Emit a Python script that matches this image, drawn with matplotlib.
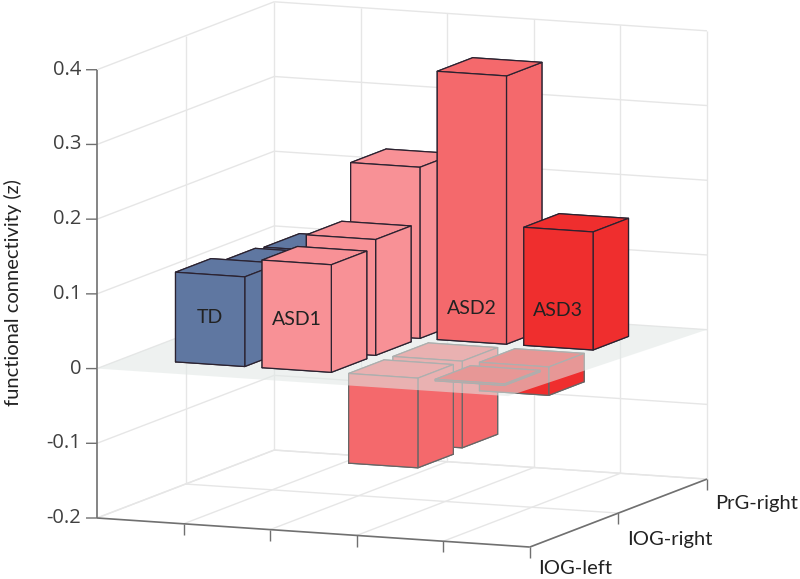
import matplotlib
matplotlib.use("Agg")
import matplotlib.pyplot as plt
from mpl_toolkits.mplot3d import proj3d
from mpl_toolkits.mplot3d.art3d import Poly3DCollection

W, H = 800, 579

groups = ["TD", "ASD1", "ASD2", "ASD3"]
regions = ["IOG-left", "IOG-right", "PrG-right"]
td = [0.120, 0.111, 0.108]
asd1 = [0.144, 0.155, 0.229]
asd2 = [-0.120, -0.116, 0.359]
asd3 = [-0.002, -0.038, 0.158]
colors = ["#5f77a1", "#f89196", "#f4696c", "#ef2e2e"]
z_ticks = [-0.2, -0.1, 0, 0.1, 0.2, 0.3, 0.4]
z_labels = ["-0.2", "-0.1", "0", "0.1", "0.2", "0.3", "0.4"]
x_ticks = [1, 2, 3, 4]
y_ticks = [0, 2, 4]
label_z = [0.062, 0.068, 0.044, 0.050]
# zero plane is not quite rectangular in the original
plane_x = [0, 4.75, 5, 0]
plane_y = [0, 0, 4, 4]

series = [td, asd1, asd2, asd3]
aspect = (469, 459, 454)
FONT = "Lato"
TICK_FONT = "Open Sans"
GRID = "#e6e6e6"
AXIS = "#707070"

fig = plt.figure(figsize=(W / 100, H / 100), dpi=100)
# big square so nothing gets clipped, content is scaled with zoom below
ax = fig.add_axes([-100 / W, (H - 1000) / 2 / H, 1000 / W, 1000 / H],
                  projection="3d", proj_type="ortho", computed_zorder=False)
ax.view_init(elev=9.23, azim=-67.3)
ax.set_xlim(0, 5, view_margin=0)
ax.set_ylim(0, 4, view_margin=0)
ax.set_zlim(-0.2, 0.4, view_margin=0)
ax.set_xticks([])
ax.set_yticks([])
ax.set_zticks([])
ax.set_box_aspect(aspect)
ax.set_axis_off()


def to_px(x, y, z):
    xp, yp, _ = proj3d.proj_transform(x, y, z, ax.get_proj())
    return ax.transData.transform((xp, yp))


# fit the box onto the corners seen in the reference
fig.canvas.draw()
a = to_px(0, 0, -0.2)
b = to_px(5, 4, -0.2)
s = (707 - 97) / (b[0] - a[0])
ax.set_box_aspect(aspect, zoom=s)
fig.canvas.draw()
a = to_px(0, 0, -0.2)
pos = ax.get_position(original=True)
ax.set_position([pos.x0 + (97 - a[0]) / W, pos.y0 + (H - 518 - a[1]) / H, pos.width, pos.height])
fig.canvas.draw()


def line(xs, ys, zs, color=GRID, lw=1.0, zorder=1):
    ax.plot(xs, ys, zs, color=color, lw=lw, zorder=zorder, solid_capstyle="butt")


def text_at(x, y, z, s, **kw):
    px, py = to_px(x, y, z)
    fig.text(px / W, py / H, s, va="center", **kw)


# walls and floor grid
for z in z_ticks:
    line([0, 0], [0, 4], [z, z])
    line([0, 5], [4, 4], [z, z])
for y in y_ticks[1:]:
    line([0, 0], [y, y], [-0.2, 0.4])
    line([0, 5], [y, y], [-0.2, -0.2])
for x in x_ticks + [5]:
    line([x, x], [4, 4], [-0.2, 0.4])
    line([x, x], [0, 4], [-0.2, -0.2])
line([0, 0], [0, 4], [-0.2, -0.2])

# axis lines and ticks
line([0, 5], [0, 0], [-0.2, -0.2], AXIS, 1.2, 2)
line([5, 5], [0, 4], [-0.2, -0.2], AXIS, 1.2, 2)
line([0, 0], [0, 0], [-0.2, 0.4], AXIS, 1.2, 2)
for x in x_ticks:
    line([x, x], [0, 0], [-0.2, -0.215], AXIS, 1.0, 2)
for y in y_ticks:
    line([5, 5], [y, y], [-0.2, -0.215], AXIS, 1.0, 2)
for z, lab in zip(z_ticks, z_labels):
    line([0, -0.108], [0, -0.037], [z, z], AXIS, 1.0, 2)
    text_at(-0.155, -0.052, z, lab, ha="right", fontsize=14.5,
            family=TICK_FONT, color="#404040")

# negative bars sit under the zero plane, positive ones above it
order = 3
for want_negative in (True, False):
    for row in (2, 1, 0):
        for g, vals in enumerate(series):
            v = vals[row]
            if (v < 0) != want_negative:
                continue
            ax.bar3d(g + 0.6, row + 0.6, 0, 0.8, 0.8, v, color=colors[g], shade=False,
                     edgecolor="#666666" if want_negative else "#2b2230",
                     linewidth=0.9, zorder=order)
            order += 1
    if want_negative:
        plane = Poly3DCollection([[(px, py, 0) for px, py in zip(plane_x, plane_y)]],
                                 facecolors=[(226 / 255, 232 / 255, 230 / 255, 0.57)],
                                 edgecolors="none", zorder=order)
        ax.add_collection3d(plane)
        order += 1

# group names printed on the front row of bars
label_row = [0, 0, 2, 2]
for g, name in enumerate(groups):
    text_at(g + 1, label_row[g] + 0.6, label_z[g], name, ha="center",
            fontsize=14, family=FONT, color="#222222")

for name, (px, py) in zip(regions, [(575, 569), (670, 540), (757, 503)]):
    fig.text(px / W, 1 - py / H, name, ha="center", va="center", fontsize=14.5,
             family=FONT, color="#222222")

fig.text(13 / W, 1 - 293 / H, "functional connectivity (z)", rotation=90, ha="center",
         va="center", fontsize=14.5, family=FONT, color="#222222")

fig.savefig("out.png", dpi=100)
